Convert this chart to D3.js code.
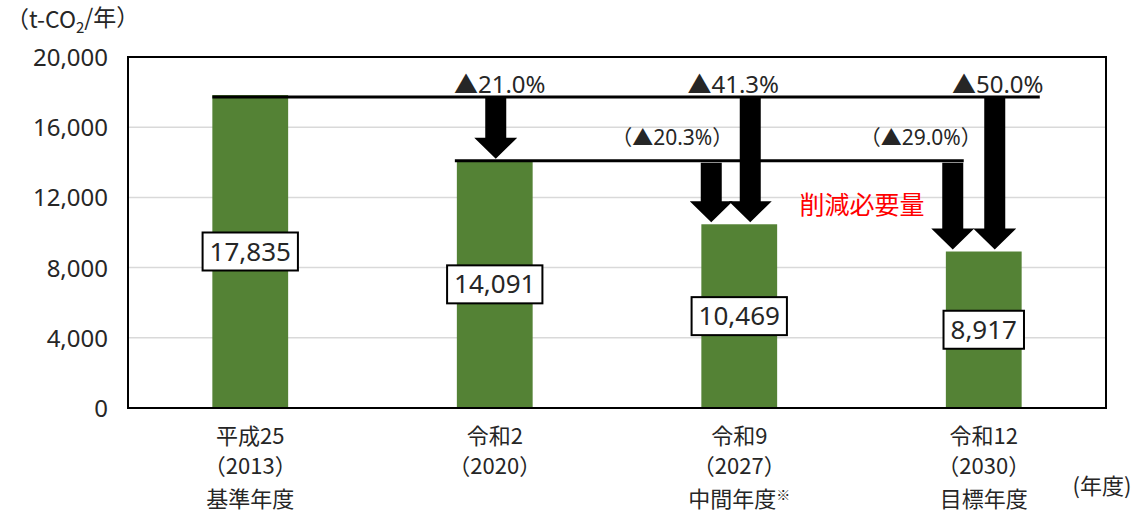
<!DOCTYPE html>
<meta charset="utf-8">
<head>
    <script src="https://d3js.org/d3.v7.min.js"></script>
    <style>
    body { margin: 0; background: #fff; }
    text { font-family: "Noto Sans CJK JP", "Noto Sans", sans-serif; fill: #262626; }
    .bar { fill: #548235; }
    .grid line { stroke: #d9d9d9; stroke-width: 1.5; }
    </style>
</head>
<body>
    <script>
    // chart data
    var categories = ["H25", "R2", "R9", "R12"];
    var catLine1 = ["平成25", "令和2", "令和9", "令和12"];
    var catLine2 = ["（2013）", "（2020）", "（2027）", "（2030）"];
    var catLine3 = ["基準年度", "", "中間年度", "目標年度"];
    var values = [17835, 14091, 10469, 8917];
    var valueLabels = ["17,835", "14,091", "10,469", "8,917"];
    var yTicks = [0, 4000, 8000, 12000, 16000, 20000];

    // reduction arrows: category index, from value, to value, label
    var arrowCat = [1, 2, 2, 3, 3];
    var arrowFrom = [17835, 14091, 17835, 14091, 17835];
    var arrowTo = [14091, 10469, 10469, 8917, 8917];
    var arrowText = ["▲21.0%", "（▲20.3%）", "▲41.3%", "（▲29.0%）", "▲50.0%"];

    // layout
    var margin = { top: 57, right: 30, bottom: 107, left: 128 },
        width = 1136 - margin.left - margin.right,
        height = 515 - margin.top - margin.bottom;
    var arrowDx = [1, -28, 11, -31, 11];
    var labelDx = [5, -67, -6, -63, 14];
    var labelY = [85, 138, 85, 138, 85];

    var x = d3.scaleBand()
            .domain(categories)
            .range([0, width])
            .paddingInner(0.69)
            .paddingOuter(0.345);
    var y = d3.scaleLinear()
            .domain([0, 20000])
            .range([height, 0]);

    var svg = d3.select("body").append("svg")
        .attr("width", 1136)
        .attr("height", 515);
    var g = svg.append("g")
        .attr("transform", "translate(" + margin.left + "," + margin.top + ")");

    // gridlines
    g.append("g").attr("class", "grid")
        .selectAll("line")
        .data(yTicks.filter(function(d) { return d > 0 && d < 20000; }))
        .enter().append("line")
        .attr("x1", 0).attr("x2", width)
        .attr("y1", function(d) { return y(d); })
        .attr("y2", function(d) { return y(d); });

    // y axis labels
    var yAxis = g.append("g")
        .call(d3.axisLeft(y).tickValues(yTicks).tickSize(0).tickPadding(20).tickFormat(d3.format(",")));
    yAxis.select(".domain").remove();
    yAxis.selectAll("text")
        .style("font-size", "24px")
        .style("font-family", "'Noto Sans', sans-serif")
        .attr("fill", "#262626")
        .attr("dy", "0.35em");

    // bars
    g.selectAll(".bar")
        .data(values)
        .enter().append("rect")
        .attr("class", "bar")
        .attr("x", function(d, i) { return x(categories[i]); })
        .attr("width", x.bandwidth())
        .attr("y", function(d) { return y(d); })
        .attr("height", function(d) { return height - y(d); });

    // frame
    g.append("rect")
        .attr("width", width).attr("height", height)
        .attr("fill", "none").attr("stroke", "#000").attr("stroke-width", 2);

    // reference lines
    var cx = function(i) { return x(categories[i]) + x.bandwidth() / 2; };
    g.append("line")
        .attr("x1", x(categories[0])).attr("x2", cx(3) + 56)
        .attr("y1", y(values[0]) + 2).attr("y2", y(values[0]) + 2)
        .attr("stroke", "#000").attr("stroke-width", 3);
    g.append("line")
        .attr("x1", x(categories[1]) - 2).attr("x2", cx(3) - 20)
        .attr("y1", y(values[1])).attr("y2", y(values[1]))
        .attr("stroke", "#000").attr("stroke-width", 3);

    // arrows
    var shaftW = 21, headW = 43, headL = 21;
    arrowCat.forEach(function(c, i) {
        var ax = cx(c) + arrowDx[i];
        var y0 = y(arrowFrom[i]) + 2;
        var y1 = y(arrowTo[i]) - 2;
        var pts = [
            [ax - shaftW / 2, y0], [ax + shaftW / 2, y0],
            [ax + shaftW / 2, y1 - headL], [ax + headW / 2, y1 - headL],
            [ax, y1], [ax - headW / 2, y1 - headL],
            [ax - shaftW / 2, y1 - headL]
        ];
        g.append("polygon")
            .attr("points", pts.map(function(p) { return p.join(","); }).join(" "))
            .attr("fill", "#000");
        svg.append("text")
            .attr("x", margin.left + cx(c) + labelDx[i])
            .attr("y", labelY[i])
            .attr("dy", "0.35em")
            .attr("text-anchor", "middle")
            .style("font-size", i % 2 ? "21px" : "24px")
            .style("font-family", "'Noto Sans', 'Noto Sans CJK JP', sans-serif")
            .text(arrowText[i]);
    });

    // red annotation
    svg.append("text")
        .attr("x", 862).attr("y", 205)
        .attr("dy", "0.35em")
        .attr("text-anchor", "middle")
        .style("font-size", "25px")
        .style("fill", "#ff0000")
        .text("削減必要量");

    // value labels in boxes
    values.forEach(function(v, i) {
        var lx = cx(i), ly = y(v / 2);
        var t = g.append("text")
            .attr("x", lx).attr("y", ly)
            .attr("dy", "0.35em")
            .attr("text-anchor", "middle")
            .style("font-size", "26px")
            .style("font-family", "'Noto Sans', sans-serif")
            .text(valueLabels[i]);
        var bb = t.node().getBBox();
        g.insert("rect", function() { return t.node(); })
            .attr("x", lx - bb.width / 2 - 7).attr("y", ly - 19)
            .attr("width", bb.width + 14).attr("height", 38)
            .attr("fill", "#fff").attr("stroke", "#000").attr("stroke-width", 2);
    });

    // category labels
    categories.forEach(function(c, i) {
        var lx = margin.left + cx(i);
        var lines = [catLine1[i], catLine2[i], catLine3[i]];
        var ys = [436, 466, 499];
        lines.forEach(function(s, k) {
            if (!s) return;
            var t = svg.append("text")
                .attr("x", lx).attr("y", ys[k])
                .attr("dy", "0.35em")
                .attr("text-anchor", "middle")
                .style("font-size", "22px")
                .text(s);
            if (i === 2 && k === 2) {
                t.append("tspan").attr("dy", "-0.5em").style("font-size", "14px").text("※");
            }
        });
    });

    // unit labels
    var yt = svg.append("text").attr("x", 6).attr("y", 20).attr("dy", "0.35em")
        .style("font-size", "23px").text("（t-CO");
    yt.append("tspan").attr("dy", "0.3em").style("font-size", "15px").text("2");
    yt.append("tspan").attr("dy", "-0.3em").text("/年）");
    svg.append("text").attr("x", 1102).attr("y", 486).attr("dy", "0.35em")
        .attr("text-anchor", "middle")
        .style("font-size", "22px").text("(年度)");
    </script>
</body>
</html>
